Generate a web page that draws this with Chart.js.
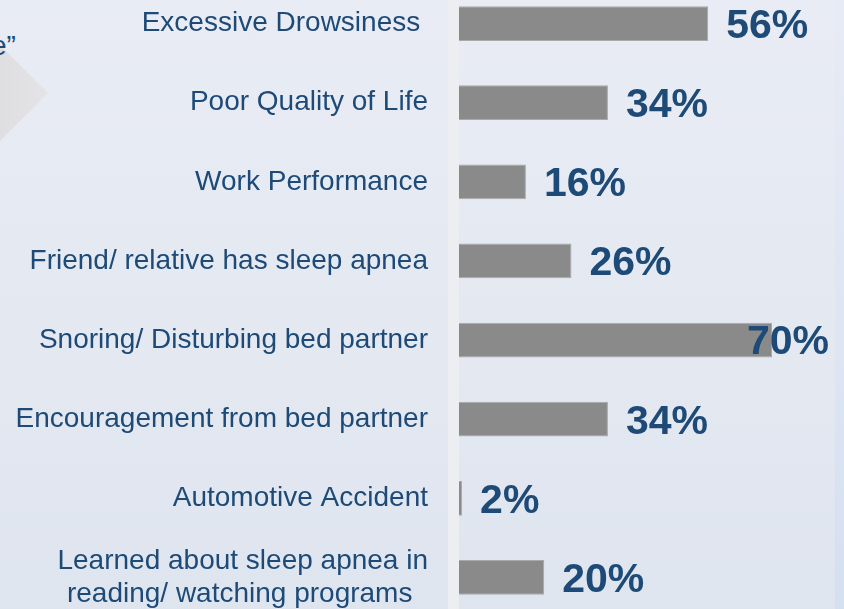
<!DOCTYPE html>
<html>
<head>
<meta charset="utf-8">
<script src="https://cdn.jsdelivr.net/npm/chart.js@4"></script>
<style>
  html, body { margin: 0; padding: 0; }
  body {
    width: 844px; height: 609px; overflow: hidden; position: relative;
    background: linear-gradient(180deg, #e9ecf4 0%, #e3e8f1 60%, #dfe5ef 100%);
    font-family: "Liberation Sans", Arial, sans-serif;
  }
  .side-panel {
    position: absolute; left: 835px; top: 0; width: 9px; height: 609px;
    background: linear-gradient(180deg, #e6ebf6 0%, #dde5f3 60%, #d4dff0 100%);
  }
  .arrow {
    position: absolute; left: -34px; top: 59px; width: 68px; height: 68px;
    transform: rotate(45deg);
    background: linear-gradient(45deg, #d9d9dc 0%, #e4e4e7 100%);
  }
  .quote-tail {
    position: absolute; left: -9px; top: 32px;
    font-size: 28px; line-height: 1; color: #1d4a77;
  }
  .chart-box {
    position: absolute; left: 0; top: -16px; width: 844px; height: 633px;
  }
</style>
</head>
<body>
<div class="side-panel"></div>
<div class="arrow"></div>
<div class="quote-tail">e”</div>
<div class="chart-box"><canvas id="reasonsChart"></canvas></div>

<script>
// Reasons for seeking sleep apnea evaluation (% of respondents)
const categories = [
    'Excessive Drowsiness ',
    'Poor Quality of Life',
    'Work Performance',
    'Friend/ relative has sleep apnea',
    'Snoring/ Disturbing bed partner',
    'Encouragement from bed partner',
    'Automotive Accident',
    ['Learned about sleep apnea in', 'reading/ watching programs  ']
];
const percentages = [56, 34, 16, 26, 70, 34, 2, 20];

const textBlue = '#1d4a77';

/**
 * Light strip along the category axis, painted over the bar roots
 */
const axisStrip = {
    id: 'axisStrip',
    afterDatasetsDraw(chart) {
        const { ctx, chartArea } = chart;
        ctx.save();
        ctx.fillStyle = '#eceef2';
        ctx.fillRect(chartArea.left - 5, chartArea.top, 11, chartArea.bottom - chartArea.top);
        ctx.restore();
    }
};

/**
 * Bold value labels right of each bar
 */
const valueLabels = {
    id: 'valueLabels',
    afterDraw(chart) {
        const { ctx } = chart;
        const meta = chart.getDatasetMeta(0);
        ctx.save();
        ctx.font = 'bold 41px "Liberation Sans", Arial, sans-serif';
        ctx.fillStyle = textBlue;
        ctx.textAlign = 'left';
        ctx.textBaseline = 'middle';
        meta.data.forEach((bar, i) => {
            const text = percentages[i] + '%';
            const w = ctx.measureText(text).width;
            const x = Math.min(bar.x + 18, 829 - w);
            ctx.fillText(text, x, bar.y + 3);
        });
        ctx.restore();
    }
};

new Chart(document.getElementById('reasonsChart'), {
    type: 'bar',
    data: {
        labels: categories,
        datasets: [{
            data: percentages,
            backgroundColor: '#8a8a8a',
            borderColor: '#a9a9a9',
            borderWidth: 1,
            borderSkipped: false,
            barPercentage: 0.44,
            categoryPercentage: 1
        }]
    },
    options: {
        indexAxis: 'y',
        responsive: true,
        maintainAspectRatio: false,
        animation: false,
        layout: { padding: 0 },
        plugins: {
            legend: { display: false },
            tooltip: { enabled: false }
        },
        scales: {
            x: {
                display: false,
                min: 0,
                max: 85.8
            },
            y: {
                grid: { display: false, drawTicks: false },
                border: { display: false },
                afterFit: (scale) => {
                    scale.width = 453;
                    // labels may overhang the canvas edges, as in the original slide
                    scale.paddingTop = 0;
                    scale.paddingBottom = 0;
                },
                ticks: {
                    padding: 25,
                    color: textBlue,
                    font: { family: '"Liberation Sans", Arial, sans-serif', size: 28, lineHeight: 1.18 }
                }
            }
        }
    },
    plugins: [axisStrip, valueLabels]
});
</script>
</body>
</html>
